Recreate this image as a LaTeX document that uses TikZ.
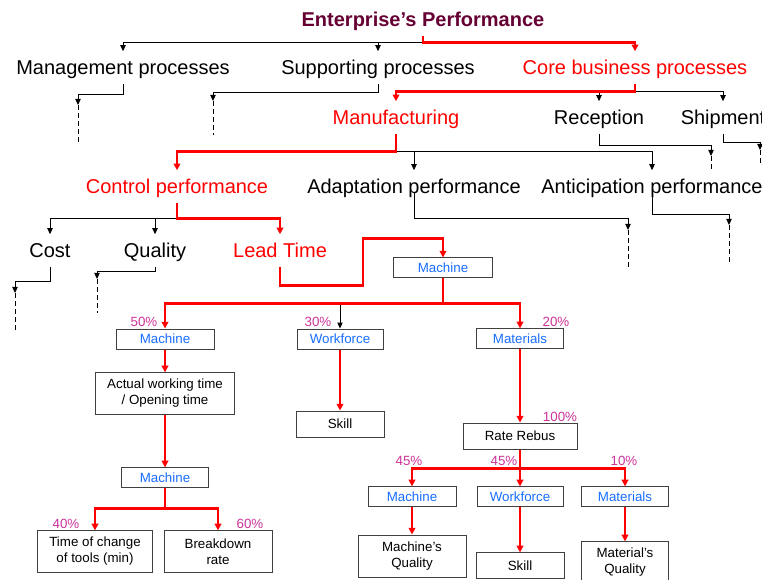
\documentclass[tikz,border=0pt]{standalone}
\usepackage{fontspec}
\setmainfont{Liberation Sans}
\usetikzlibrary{arrows.meta,calc}

\definecolor{titlemaroon}{RGB}{102,0,51}
\definecolor{factorblue}{RGB}{25,110,255}
\definecolor{pctpink}{RGB}{204,51,153}
\definecolor{boxgray}{RGB}{64,64,64}

\begin{document}
\begin{tikzpicture}[
    x = 0.75pt,
    y = -0.75pt,
    big/.style = {
      font = \fontsize{15}{18}\selectfont,
      text height = 11pt,
      text depth = 1pt,
      inner xsep = 0pt,
      inner ysep = 6pt
    },
    box/.style = {
      draw = boxgray,
      line width = 0.75pt,
      fill = white,
      font = \fontsize{10}{12}\selectfont,
      align = center,
      inner sep = 0pt
    },
    factor/.style = {
      box,
      text = factorblue,
      minimum height = 14.5pt
    },
    pct/.style = {
      text = pctpink,
      font = \fontsize{10}{12}\selectfont,
      inner sep = 0pt
    },
    bline/.style = {
      line width = 0.75pt,
      -{Triangle[length=4.5pt,width=4pt]}
    },
    rline/.style = {
      red,
      line width = 1.9pt,
      -{Triangle[length=5pt,width=5pt]}
    },
    dline/.style = {
      line width = 0.75pt,
      dash pattern = on 3.5pt off 2.5pt
    }
  ]
  \path[use as bounding box, fill=white] (0,0) rectangle (762,580);

  \draw (423,20) node[big, font=\fontsize{15}{18}\selectfont\bfseries, text=titlemaroon] (ent) {Enterprise’s Performance};

  \draw (123,67.5) node[big] (mgmt) {Management processes};
  \draw (378,67.5) node[big] (supp) {Supporting processes};
  \draw (635,67.5) node[big, text=red] (core) {Core business processes};

  \draw (396,117.5) node[big, text=red] (manu) {Manufacturing};
  \draw (599,117.5) node[big] (recp) {Reception};
  \draw (723,117.5) node[big] (ship) {Shipment};

  \draw (177,186.5) node[big, text=red] (ctrl) {Control performance};
  \draw (414,186.5) node[big] (adapt) {Adaptation performance};
  \draw (652,186.5) node[big] (antic) {Anticipation performance};

  \draw (50,250.5) node[big] (cost) {Cost};
  \draw (155,250.5) node[big] (qual) {Quality};
  \draw (280,250.5) node[big, text=red] (lead) {Lead Time};

  \draw (443,268) node[factor, minimum width=74pt, minimum height=15pt] (mach) {Machine};

  \draw (165,339) node[factor, minimum width=73.5pt, minimum height=15pt] (m1) {Machine};
  \draw (340,339) node[factor, minimum width=64.5pt, minimum height=15pt] (wf1) {Workforce};
  \draw (520,338.5) node[factor, minimum width=65pt] (mat1) {Materials};
  \draw (144,322) node[pct] (p50) {50\%};
  \draw (318,322) node[pct] (p30) {30\%};
  \draw (556,322) node[pct] (p20) {20\%};

  \draw (165,393.5) node[box, minimum width=104pt, minimum height=31pt] (act) {Actual working time\\/ Opening time};
  \draw (165,477.5) node[factor, minimum width=65pt] (m2) {Machine};
  \draw (95,551.5) node[box, minimum width=86pt, minimum height=31pt] (tc) {Time of change\\of tools (min)};
  \draw (218,551.5) node[box, minimum width=81pt, minimum height=31pt] (bd) {Breakdown\\rate};
  \draw (66,524) node[pct] (p40) {40\%};
  \draw (250,524) node[pct] (p60) {60\%};

  \draw (340,424) node[box, minimum width=66pt, minimum height=19.5pt] (sk1) {Skill};

  \draw (520,436) node[box, minimum width=85.5pt, minimum height=19.5pt] (rr) {Rate Rebus};
  \draw (560,417) node[pct] (p100) {100\%};
  \draw (412,496.5) node[factor, minimum width=66pt] (m3) {Machine};
  \draw (520,496.5) node[factor, minimum width=64.5pt] (wf3) {Workforce};
  \draw (625,496.5) node[factor, minimum width=65pt] (mat3) {Materials};
  \draw (409,461) node[pct] (p45a) {45\%};
  \draw (504,461) node[pct] (p45b) {45\%};
  \draw (624,461) node[pct] (p10) {10\%};
  \draw (412,556) node[box, minimum width=81pt, minimum height=31.5pt] (mq) {Machine’s\\Quality};
  \draw (520,565.5) node[box, minimum width=66pt, minimum height=19pt] (sk3) {Skill};
  \draw (625,562.5) node[box, minimum width=65pt, minimum height=31pt] (matq) {Material’s\\Quality};

  \coordinate (entJ) at ($(ent.south)+(0,6)$);
  \coordinate (coreJ) at ($(core.south)+(0,7.5)$);
  \coordinate (manuJ) at ($(manu.south)+(0,17.5)$);
  \coordinate (ctrlJ) at ($(ctrl.south)+(0,15.5)$);
  \coordinate (machJ) at ($(mach.south)+(0,25)$);
  \coordinate (m2J) at ($(m2.south)+(0,21)$);
  \coordinate (rrJ) at ($(rr.south)+(0,19)$);

  \coordinate (mgmtA) at (78,105);
  \coordinate (mgmtB) at (78,143);
  \coordinate (suppA) at (213,101);
  \coordinate (suppB) at (213,135);
  \coordinate (recpA) at (711,156);
  \coordinate (recpB) at (711,172);
  \coordinate (shipA) at (760,150);
  \coordinate (shipB) at (760,166);
  \coordinate (adaptA) at (628,230);
  \coordinate (adaptB) at (628,267);
  \coordinate (anticA) at (729,225);
  \coordinate (anticB) at (729,262);
  \coordinate (costA) at (15,293);
  \coordinate (costB) at (15,332);
  \coordinate (qualA) at (97,279);
  \coordinate (qualB) at (97,313);

  \draw[bline] (entJ) -| (mgmt.north);
  \draw[bline] (entJ) -| (supp.north);
  \draw[bline] (coreJ) -| (recp.north);
  \draw[bline] (coreJ) -| (ship.north);
  \draw[bline] (manuJ) -| (adapt.north);
  \draw[bline] (manuJ) -| (antic.north);
  \draw[bline] (ctrlJ) -| (cost.north);
  \draw[bline] (ctrlJ) -| (qual.north);
  \draw[bline] (machJ) -| (wf1.north);

  \draw[bline] (mgmt.south) -- ++(0,10.5) -| (mgmtA);
  \draw[bline] (supp.south) -- ++(0,8.5) -| (suppA);
  \draw[bline] (recp.south) -- ++(0,11.5) -| (recpA);
  \draw[bline] (ship.south) -- ++(0,8.5) -| (shipA);
  \draw[bline] (adapt.base) -- ++(0,25) -| (adaptA);
  \draw[bline] (antic.base) -- ++(0,21) -| (anticA);
  \draw[bline] (cost.south) -- ++(0,14.5) -| (costA);
  \draw[bline] (qual.south) -- ++(0,4.5) -| (qualA);

  \draw[dline] (mgmtA) -- (mgmtB);
  \draw[dline] (suppA) -- (suppB);
  \draw[dline] (recpA) -- (recpB);
  \draw[dline] (shipA) -- (shipB);
  \draw[dline] (adaptA) -- (adaptB);
  \draw[dline] (anticA) -- (anticB);
  \draw[dline] (costA) -- (costB);
  \draw[dline] (qualA) -- (qualB);

  \draw[rline] (ent.south) -- (entJ) -| (core.north);
  \draw[rline] (core.south) -- (coreJ) -| (manu.north);
  \draw[rline] (manu.south) -- (manuJ) -| (ctrl.north);
  \draw[rline] (ctrl.south) -- (ctrlJ) -| (lead.north);
  \draw[rline] (lead.south) -- ++(0,18.5) -| ++(83,-47) -| (mach.north);

  \draw[rline] (mach.south) -- (machJ) -| (m1.north);
  \draw[rline] (machJ) -| (mat1.north);
  \draw[rline] (m1.south) -- (act.north);
  \draw[rline] (act.south) -- (m2.north);
  \draw[rline] (m2.south) -- (m2J) -| (tc.north);
  \draw[rline] (m2J) -| (bd.north);
  \draw[rline] (wf1.south) -- (sk1.north);
  \draw[rline] (mat1.south) -- (rr.north);
  \draw[rline] (rr.south) -- (rrJ) -| (m3.north);
  \draw[rline] (rrJ) -- (wf3.north);
  \draw[rline] (rrJ) -| (mat3.north);
  \draw[rline] (m3.south) -- (mq.north);
  \draw[rline] (wf3.south) -- (sk3.north);
  \draw[rline] (mat3.south) -- (matq.north);

\end{tikzpicture}
\end{document}
